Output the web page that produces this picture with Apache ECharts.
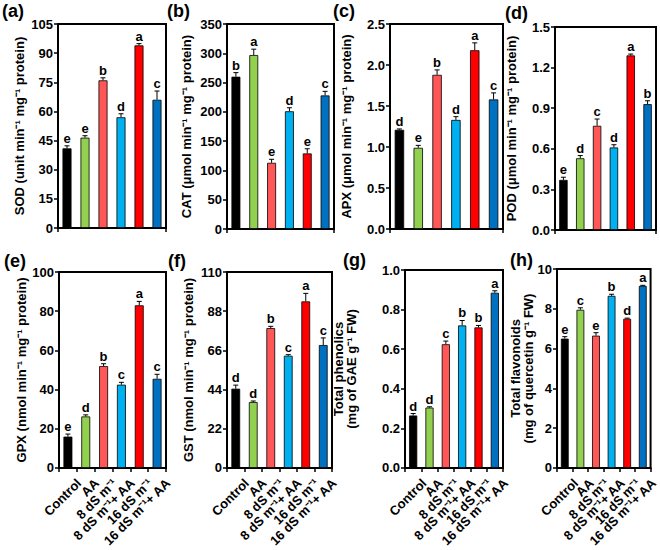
<!DOCTYPE html>
<html><head><meta charset="utf-8">
<script src="https://cdn.jsdelivr.net/npm/echarts@6/dist/echarts.min.js"></script>
<style>html,body{margin:0;padding:0;background:#fff}#c{width:660px;height:550px}</style>
</head><body><div id="c"></div>
<script>
const categories = ['Control', 'AA', '8 dS m\u207B\u00B9', '8 dS m\u207B\u00B9+ AA', '16 dS m\u207B\u00B9', '16 dS m\u207B\u00B9+ AA'];
const barColors = ['#000000', '#92D050', '#FF5757', '#00B0F0', '#FF0000', '#0070C0'];

const sodMean = [41, 46.5, 76, 57, 94, 66];
const sodErr = [1.3, 1.0, 1.3, 1.8, 0.9, 4.5];
const sodLetters = ['e', 'e', 'b', 'd', 'a', 'c'];

const catMean = [260, 297, 113, 201, 129, 228];
const catErr = [7, 10, 6, 6, 8, 7];
const catLetters = ['b', 'a', 'e', 'd', 'e', 'c'];

const apxMean = [1.21, 0.99, 1.88, 1.33, 2.18, 1.58];
const apxErr = [0.01, 0.03, 0.06, 0.04, 0.09, 0.08];
const apxLetters = ['d', 'e', 'b', 'd', 'a', 'c'];

const podMean = [0.37, 0.53, 0.77, 0.61, 1.29, 0.93];
const podErr = [0.02, 0.02, 0.05, 0.02, 0.01, 0.025];
const podLetters = ['e', 'd', 'c', 'd', 'a', 'b'];

const gpxMean = [16, 26.3, 52, 42.5, 83, 45.5];
const gpxErr = [1.3, 0.8, 1.2, 1.2, 2.0, 2.3];
const gpxLetters = ['e', 'd', 'b', 'c', 'a', 'c'];

const gstMean = [44.5, 37, 78.5, 63, 93.5, 69];
const gstErr = [2.0, 0.6, 1.0, 0.6, 4.5, 4.0];
const gstLetters = ['d', 'd', 'b', 'c', 'a', 'c'];

const phenMean = [0.265, 0.305, 0.625, 0.72, 0.71, 0.885];
const phenErr = [0.01, 0.004, 0.016, 0.025, 0.01, 0.01];
const phenLetters = ['d', 'd', 'c', 'b', 'b', 'a'];

const flavMean = [6.5, 7.95, 6.65, 8.65, 7.5, 9.15];
const flavErr = [0.1, 0.1, 0.15, 0.08, 0.03, 0.03];
const flavLetters = ['e', 'c', 'e', 'b', 'd', 'a'];

const panelTags = ['(a)', '(b)', '(c)', '(d)', '(e)', '(f)', '(g)', '(h)'];
const yNames = [
  'SOD (unit min\u207B\u00B9 mg\u207B\u00B9 protein)',
  'CAT (\u03BCmol min\u207B\u00B9 mg\u207B\u00B9 protein)',
  'APX (\u03BCmol min\u207B\u00B9 mg\u207B\u00B9 protein)',
  'POD (\u03BCmol min\u207B\u00B9 mg\u207B\u00B9 protein)',
  'GPX (nmol min\u207B\u00B9 mg\u207B\u00B9 protein)',
  'GST (nmol min\u207B\u00B9 mg\u207B\u00B9 protein)',
  'Total phenolics\n(mg of GAE g\u207B\u00B9 FW)',
  'Total flavonoids\n(mg of quercetin g\u207B\u00B9 FW)'
];
const yMax = [105, 350, 2.5, 1.5, 100, 110, 1.0, 10];
const yInterval = [15, 50, 0.5, 0.3, 20, 22, 0.2, 2];
const yDecimals = [0, 0, 1, 1, 0, 0, 1, 0];

const panels = [
  [sodMean, sodErr, sodLetters], [catMean, catErr, catLetters],
  [apxMean, apxErr, apxLetters], [podMean, podErr, podLetters],
  [gpxMean, gpxErr, gpxLetters], [gstMean, gstErr, gstLetters],
  [phenMean, phenErr, phenLetters], [flavMean, flavErr, flavLetters]
];

// layout (pixels)
const gridBoxes = [
  {left: 58, top: 24, width: 108, height: 204},
  {left: 227, top: 24, width: 107, height: 205},
  {left: 390, top: 24, width: 113, height: 205},
  {left: 555, top: 27, width: 101, height: 203},
  {left: 59, top: 272, width: 107, height: 204},
  {left: 227, top: 272, width: 105, height: 203},
  {left: 405, top: 270, width: 98, height: 204},
  {left: 557, top: 269, width: 99, height: 204}
];
const tagPos = [[2, 2], [167, 2], [333, 2], [505, 4], [4, 252], [168, 252], [343, 251], [510, 251]];
const nameGaps = [31, 33, 36, 36, 30, 31, 47, 22];

const FONT = '"Liberation Sans", Arial, sans-serif';

const grids = [], xAxes = [], yAxes = [], series = [], graphics = [];
panels.forEach((p, k) => {
  const [mean, err, letters] = p;
  const bottomRow = k >= 4;
  const twoLine = yNames[k].indexOf('\n') >= 0;
  grids.push(Object.assign({show: true, borderColor: '#000', borderWidth: 2, backgroundColor: 'transparent'}, gridBoxes[k]));
  xAxes.push({
    type: 'category', gridIndex: k, data: categories,
    axisLine: {lineStyle: {color: '#000', width: 2}},
    axisTick: {show: true, inside: false, length: 4, lineStyle: {color: '#000', width: 1.5}},
    axisLabel: bottomRow ? {show: true, rotate: 45, interval: 0, color: '#000', fontWeight: 'bold', fontSize: 13, fontFamily: FONT,
      margin: 2, verticalAlign: 'top', padding: [9, 0, 0, 0]} : {show: false}
  });
  yAxes.push({
    type: 'value', gridIndex: k, min: 0, max: yMax[k], interval: yInterval[k],
    name: yNames[k], nameLocation: 'middle', nameGap: nameGaps[k], nameMoveOverlap: false,
    nameTextStyle: {color: '#000', fontWeight: 'bold', fontSize: 13, fontFamily: FONT, lineHeight: twoLine ? 13 : 16},
    axisLine: {show: true, lineStyle: {color: '#000', width: 2}},
    axisTick: {show: true, length: 4, lineStyle: {color: '#000', width: 1.5}},
    axisLabel: {color: '#000', fontWeight: 'bold', fontSize: 13, fontFamily: FONT, margin: 5,
      formatter: v => Number(v).toFixed(yDecimals[k])},
    splitLine: {show: false}
  });
  series.push({
    type: 'bar', xAxisIndex: k, yAxisIndex: k, barWidth: '50%', animation: false,
    data: mean.map((v, i) => ({value: v, itemStyle: {color: barColors[i], borderColor: '#000', borderWidth: 0.8}}))
  });
  series.push({
    type: 'custom', xAxisIndex: k, yAxisIndex: k, animation: false, z: 5,
    data: mean.map((v, i) => [i, v, err[i]]),
    renderItem: (params, api) => {
      const i = api.value(0), m = api.value(1), e = api.value(2);
      const base = api.coord([i, m]);
      const top = api.coord([i, m + e]);
      const cap = 5;
      return {type: 'group', children: [
        {type: 'line', shape: {x1: base[0], y1: base[1], x2: base[0], y2: top[1]}, style: {stroke: '#000', lineWidth: 1}},
        {type: 'line', shape: {x1: base[0] - cap / 2, y1: top[1], x2: base[0] + cap / 2, y2: top[1]}, style: {stroke: '#000', lineWidth: 1}},
        {type: 'text', style: {text: letters[params.dataIndex], x: base[0], y: top[1] - 1, textAlign: 'center', textVerticalAlign: 'bottom',
          fill: '#000', font: 'bold 13px ' + FONT}}
      ]};
    }
  });
  graphics.push({type: 'text', left: tagPos[k][0], top: tagPos[k][1],
    style: {text: panelTags[k], fill: '#000', font: 'bold 18px ' + FONT}});
});

const chart = echarts.init(document.getElementById('c'), null, {renderer: 'svg'});
chart.setOption({
  animation: false,
  backgroundColor: '#fff',
  grid: grids, xAxis: xAxes, yAxis: yAxes, series: series, graphic: graphics
});
</script></body></html>
